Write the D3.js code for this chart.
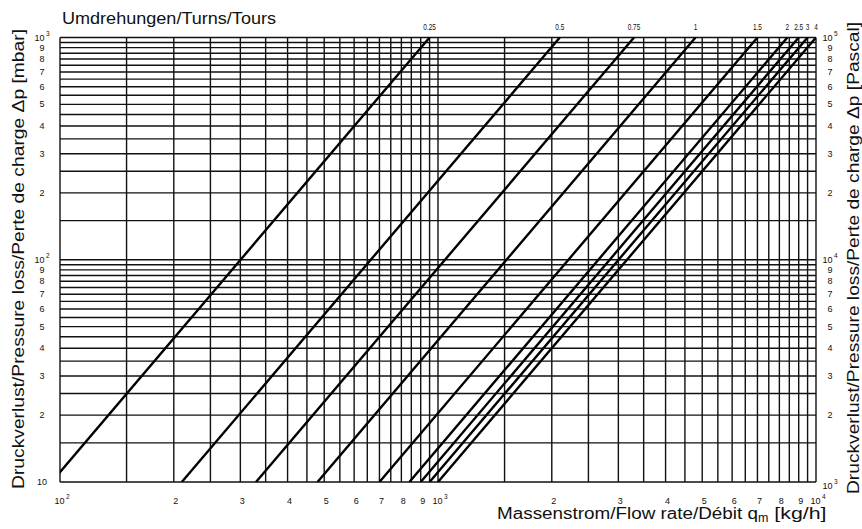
<!DOCTYPE html>
<html lang="de">
<head>
<meta charset="UTF-8">
<title>Druckverlust Diagramm</title>
<script src="https://cdn.jsdelivr.net/npm/d3@7"></script>
<style>
  body { margin: 0; background: #fff; }
  text { font-family: "Liberation Sans", Arial, sans-serif; fill: #111; }
</style>
</head>
<body>
<script>

// turns of the valve and the flow (kg/h) at which each curve hits 1000 mbar
var turns = ["0.25", "0.5", "0.75", "1", "1.5", "2", "2.5", "3", "4"];
var flowAtTop = [950, 2100, 3300, 4800, 7000, 8400, 9000, 9500, 10000];
var lossExponent = 2;   // dp ~ q^2

// grid steps inside one decade
var gridSteps = [1, 1.5, 2, 2.5, 3, 3.5, 4, 4.5, 5, 5.5, 6, 6.5, 7, 7.5, 8, 8.5, 9, 9.5];
var labelSteps = [1, 2, 3, 4, 5, 6, 7, 8, 9];
var xDecades = [100, 1000];
var yDecades = [10, 100];
var paDecades = [1000, 10000];

var W = 862, H = 529;
var pLeft = 60, pRight = 816, pTop = 37.5, pBottom = 482;

var x = d3.scaleLog().domain([100, 10000]).range([pLeft, pRight]);
var y = d3.scaleLog().domain([10, 1000]).range([pBottom, pTop]);
var yPa = d3.scaleLog().domain([1000, 100000]).range([pBottom, pTop]);

var svg = d3.select("body").append("svg")
    .attr("width", W)
    .attr("height", H);

// grid values
var xGrid = [], yGrid = [];
xDecades.forEach(function(d){ gridSteps.forEach(function(s){ xGrid.push(d * s); }); });
xGrid.push(10000);
yDecades.forEach(function(d){ gridSteps.forEach(function(s){ yGrid.push(d * s); }); });
yGrid.push(1000);

var grid = svg.append("g")
    .attr("stroke", "#111")
    .attr("stroke-width", 1.4);

grid.selectAll(".vx").data(xGrid).enter().append("line")
    .attr("x1", function(d){ return x(d); })
    .attr("x2", function(d){ return x(d); })
    .attr("y1", pTop).attr("y2", pBottom);

grid.selectAll(".hy").data(yGrid).enter().append("line")
    .attr("y1", function(d){ return y(d); })
    .attr("y2", function(d){ return y(d); })
    .attr("x1", pLeft).attr("x2", pRight);

// clip for the curves
svg.append("clipPath").attr("id", "plot")
  .append("rect")
    .attr("x", pLeft).attr("y", pTop)
    .attr("width", pRight - pLeft).attr("height", pBottom - pTop);

var line = d3.line()
    .x(function(d){ return x(d[0]); })
    .y(function(d){ return y(d[1]); });

var curves = flowAtTop.map(function(q){
    var qLow = q * Math.pow(10 / 1000, 1 / lossExponent);
    return [[qLow, 10], [q, 1000]];
});

svg.append("g")
    .attr("clip-path", "url(#plot)")
  .selectAll("path")
  .data(curves)
  .enter().append("path")
    .attr("d", line)
    .attr("fill", "none")
    .attr("stroke", "#000")
    .attr("stroke-width", 2.4);

// turns labels on top (narrow type)
svg.append("g").selectAll("text")
  .data(turns)
  .enter().append("text")
    .attr("transform", function(d, i){
        return "translate(" + x(flowAtTop[i]) + ",30) scale(0.72,1.1)";
    })
    .attr("text-anchor", "middle")
    .attr("font-size", 9)
    .text(function(d){ return d; });

// tick labels: mantissa digits, powers of ten with superscript
function tickValues(decades, last){
    var v = [];
    decades.forEach(function(d){ labelSteps.forEach(function(s){ v.push(d * s); }); });
    v.push(last);
    return v;
}
function writeTick(sel){
    sel.each(function(d){
        var t = d3.select(this);
        var e = Math.log10(d);
        if (Math.abs(e - Math.round(e)) < 1e-9) {
            if (Math.round(e) === 1) { t.text("10"); return; }
            t.append("tspan").text("10");
            t.append("tspan").attr("dy", -5).attr("dx", 1.5)
                .attr("font-size", 6.5).text(Math.round(e));
        } else {
            t.text(Math.round(d / Math.pow(10, Math.floor(e))));
        }
    });
}

var tickFont = 9;

svg.append("g").selectAll("text")
  .data(tickValues(yDecades, 1000))
  .enter().append("text")
    .attr("x", pLeft - 18)
    .attr("y", function(d){ return y(d) + 3; })
    .attr("text-anchor", "middle")
    .attr("font-size", tickFont)
    .call(writeTick);

svg.append("g").selectAll("text")
  .data(tickValues(paDecades, 100000))
  .enter().append("text")
    .attr("x", pRight + 14)
    .attr("y", function(d){ return yPa(d) + (d === 1000 ? 7 : 3); })
    .attr("text-anchor", "middle")
    .attr("font-size", tickFont)
    .call(writeTick);

svg.append("g").selectAll("text")
  .data(tickValues(xDecades, 10000))
  .enter().append("text")
    .attr("x", function(d){ return x(d) + 2; })
    .attr("y", pBottom + 22)
    .attr("text-anchor", "middle")
    .attr("font-size", tickFont)
    .call(writeTick);

// titles
svg.append("text")
    .attr("x", 62).attr("y", 24)
    .attr("font-size", 16)
    .attr("textLength", 214)
    .attr("lengthAdjust", "spacingAndGlyphs")
    .text("Umdrehungen/Turns/Tours");

var xt = svg.append("text")
    .attr("x", 497).attr("y", 519)
    .attr("font-size", 16);
xt.append("tspan").attr("textLength", 261).attr("lengthAdjust", "spacingAndGlyphs")
    .text("Massenstrom/Flow rate/Débit q");
xt.append("tspan").attr("dy", 3).attr("font-size", 12.5).text("m");
xt.append("tspan").attr("dy", -3).attr("textLength", 58).attr("lengthAdjust", "spacingAndGlyphs")
    .text(" [kg/h]");

svg.append("text")
    .attr("transform", "translate(24,259) rotate(-90)")
    .attr("text-anchor", "middle")
    .attr("font-size", 16)
    .attr("textLength", 460)
    .attr("lengthAdjust", "spacingAndGlyphs")
    .text("Druckverlust/Pressure loss/Perte de charge Δp [mbar]");

svg.append("text")
    .attr("transform", "translate(859,258) rotate(-90)")
    .attr("text-anchor", "middle")
    .attr("font-size", 16)
    .attr("textLength", 472)
    .attr("lengthAdjust", "spacingAndGlyphs")
    .text("Druckverlust/Pressure loss/Perte de charge Δp [Pascal]");

</script>
</body>
</html>
